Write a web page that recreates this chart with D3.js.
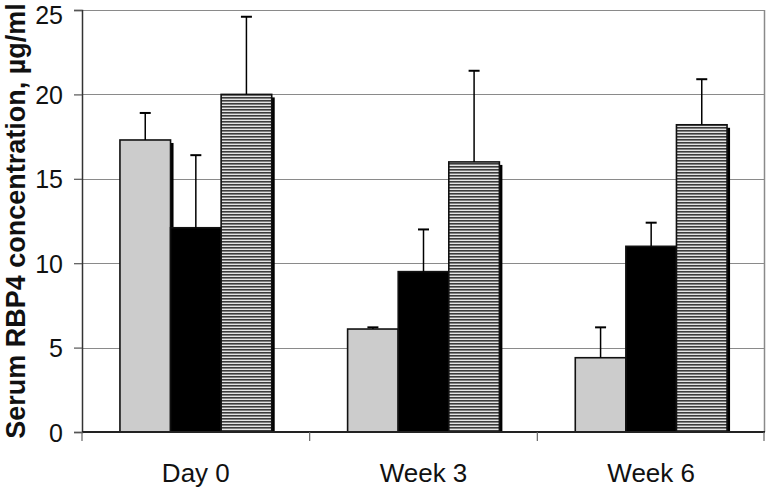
<!DOCTYPE html>
<html>
<head>
<meta charset="utf-8">
<script src="https://cdn.jsdelivr.net/npm/d3@7"></script>
<style>
  body { margin:0; background:#fff; }
  svg text { font-family: Arial, "Liberation Sans", sans-serif; }
</style>
</head>
<body>
<div id="chart"></div>
<script>
// data
var categories = ["Day 0", "Week 3", "Week 6"];
var series = ["group1", "group2", "group3"];
var meanValues = [
  [17.3, 12.1, 20.0],
  [6.1, 9.5, 16.0],
  [4.4, 11.0, 18.2]
];
var errorTops = [
  [18.9, 16.4, 24.6],
  [6.2, 12.0, 21.4],
  [6.2, 12.4, 20.9]
];
var yTicks = [0, 5, 10, 15, 20, 25];

var width = 767, height = 489;
var margin = {left:82, top:10, right:2, bottom:57};
var plotW = width - margin.left - margin.right;
var plotH = height - margin.top - margin.bottom;

var svg = d3.select("#chart").append("svg")
  .attr("width", width).attr("height", height);

var defs = svg.append("defs");
var pat = defs.append("pattern")
  .attr("id", "hstripe")
  .attr("patternUnits", "userSpaceOnUse")
  .attr("width", 6).attr("height", 3);
pat.append("rect").attr("width", 6).attr("height", 3).attr("fill", "#e4e4e4");
pat.append("rect").attr("width", 6).attr("height", 1.6).attr("fill", "#3c3c3c");

var g = svg.append("g").attr("transform", "translate(" + margin.left + "," + margin.top + ")");

var x0 = d3.scaleBand().domain(categories).range([0, plotW]).padding(0);
var x1 = d3.scaleBand().domain(series).range([0, x0.bandwidth()]).paddingInner(0).paddingOuter(0.75);
var y = d3.scaleLinear().domain([0, 25]).range([plotH, 0]);

var fills = {"group1":"#cccccc", "group2":"#000000", "group3":"url(#hstripe)"};

// grid lines
g.append("g").selectAll("line").data(yTicks.filter(function(d){ return d > 0; }))
  .enter().append("line")
  .attr("x1", 0).attr("x2", plotW)
  .attr("y1", function(d){ return Math.round(y(d)) + 0.5; })
  .attr("y2", function(d){ return Math.round(y(d)) + 0.5; })
  .attr("stroke", "#8a8a8a").attr("stroke-width", 1.2);

// right border
g.append("line")
  .attr("x1", plotW - 0.5).attr("x2", plotW - 0.5)
  .attr("y1", 0).attr("y2", plotH)
  .attr("stroke", "#8a8a8a").attr("stroke-width", 1.5);

var rows = [];
categories.forEach(function(c, i){
  series.forEach(function(s, j){
    rows.push({cat:c, ser:s, v:meanValues[i][j], top:errorTops[i][j]});
  });
});

// clip so the shadows stop at the axis
defs.append("clipPath").attr("id", "plotclip")
  .append("rect").attr("x", 0).attr("y", -20).attr("width", plotW).attr("height", plotH + 20);

var bars = g.append("g").attr("clip-path", "url(#plotclip)");

// shadows first
bars.selectAll("rect.shadow").data(rows).enter().append("rect")
  .attr("class", "shadow")
  .attr("x", function(d){ return x0(d.cat) + x1(d.ser) + 3; })
  .attr("y", function(d){ return y(d.v) + 3; })
  .attr("width", x1.bandwidth())
  .attr("height", function(d){ return plotH - y(d.v); })
  .attr("fill", "#000");

// error bars (upper only)
var err = g.append("g").selectAll("g").data(rows).enter().append("g");
err.append("line")
  .attr("x1", function(d){ return x0(d.cat) + x1(d.ser) + x1.bandwidth() / 2; })
  .attr("x2", function(d){ return x0(d.cat) + x1(d.ser) + x1.bandwidth() / 2; })
  .attr("y1", function(d){ return y(d.v); })
  .attr("y2", function(d){ return y(d.top); })
  .attr("stroke", "#000").attr("stroke-width", 1.5);
err.append("line")
  .attr("x1", function(d){ return x0(d.cat) + x1(d.ser) + x1.bandwidth() / 2 - 5.5; })
  .attr("x2", function(d){ return x0(d.cat) + x1(d.ser) + x1.bandwidth() / 2 + 5.5; })
  .attr("y1", function(d){ return y(d.top); })
  .attr("y2", function(d){ return y(d.top); })
  .attr("stroke", "#000").attr("stroke-width", 2);

bars.selectAll("rect.bar").data(rows).enter().append("rect")
  .attr("class", "bar")
  .attr("x", function(d){ return x0(d.cat) + x1(d.ser); })
  .attr("y", function(d){ return y(d.v); })
  .attr("width", x1.bandwidth())
  .attr("height", function(d){ return plotH - y(d.v); })
  .attr("fill", function(d){ return fills[d.ser]; })
  .attr("stroke", "#111").attr("stroke-width", 1.6);

// y axis
var yAxis = g.append("g")
  .call(d3.axisLeft(y).tickValues(yTicks).tickSize(8).tickPadding(11).tickFormat(d3.format("d")));
yAxis.select(".domain").attr("stroke", "#333").attr("stroke-width", 1.5);
yAxis.selectAll(".tick line").attr("stroke", "#555").attr("stroke-width", 1.2);
yAxis.selectAll("text")
  // top label nudged down a little so it stays inside the page
  .attr("dy", function(d){ return d === 25 ? "0.53em" : "0.36em"; })
  .style("font-size", "25px").style("fill", "#111")
  .style("font-family", "Arial, 'Liberation Sans', sans-serif");

// x axis with ticks at category boundaries
var xb = g.append("g").attr("transform", "translate(0," + plotH + ")");
xb.append("line").attr("x1", 0).attr("x2", plotW).attr("y1", 0).attr("y2", 0)
  .attr("stroke", "#222").attr("stroke-width", 1.8);
var bounds = categories.map(function(c){ return x0(c); }).concat([plotW]);
xb.selectAll("line.tk").data(bounds).enter().append("line")
  .attr("class", "tk")
  .attr("x1", function(d){ return Math.min(d, plotW - 1); })
  .attr("x2", function(d){ return Math.min(d, plotW - 1); })
  .attr("y1", 0).attr("y2", 9)
  .attr("stroke", "#666").attr("stroke-width", 1.2);
xb.selectAll("text").data(categories).enter().append("text")
  .attr("x", function(d){ return x0(d) + x0.bandwidth() / 2; })
  .attr("y", 50)
  .attr("text-anchor", "middle")
  .style("font-size", "26px").style("fill", "#111")
  .text(function(d){ return d; });

// y title
svg.append("text")
  .attr("transform", "translate(25," + (margin.top + plotH / 2) + ") rotate(-90)")
  .attr("text-anchor", "middle")
  .style("font-size", "27px").style("font-weight", "bold").style("fill", "#111")
  .text("Serum RBP4 concentration, \u00b5g/ml");
</script>
</body>
</html>
